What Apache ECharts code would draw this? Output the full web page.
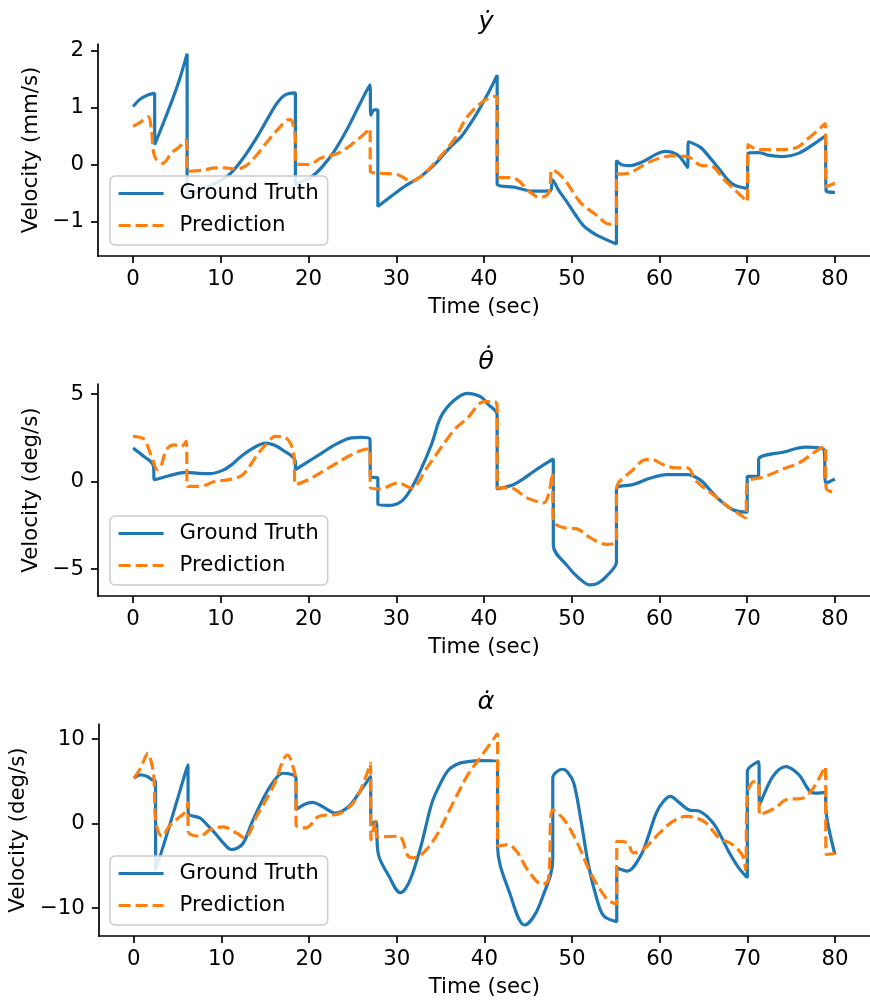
<!DOCTYPE html>
<html>
<head>
<meta charset="utf-8">
<script src="https://cdn.jsdelivr.net/npm/echarts@6/dist/echarts.min.js"></script>
<style>
  html, body { margin: 0; padding: 0; background: #fff; }
  #chart { width: 870px; height: 1002px; }
</style>
</head>
<body>
<div id="chart"></div>
<script>
// tick labels
var xTicks = [0, 10, 20, 30, 40, 50, 60, 70, 80]
var yTicks1 = [-1, 0, 1, 2]
var yTicks2 = [-5, 0, 5]
var yTicks3 = [-10, 0, 10]

// y dot: [time, value]
var ydGT = [[0,1.02],[0.8,1.15],[1.6,1.22],[2.46,1.25],[2.46,0.35],[3.5,0.75],[4.5,1.15],[5.3,1.5],[6.16,1.95],
  [6.16,-0.55],[7.5,-0.47],[9,-0.36],[10.95,-0.18],[12.5,0.1],[14,0.45],[15.5,0.85],[16.5,1.1],[17.4,1.23],[18.5,1.26],
  [18.5,-0.35],[19.5,-0.28],[20.4,-0.21],[21.5,-0.05],[23,0.25],[24.5,0.65],[25.8,1.05],[27,1.4],[27.1,0.87],[27.5,0.96],[27.9,0.96],
  [27.9,-0.74],[29.5,-0.55],[31,-0.38],[32.8,-0.21],[34.5,0.02],[36,0.28],[37.4,0.49],[38.1,0.64],[39,0.85],[40,1.12],[40.8,1.35],[41.5,1.57],
  [41.5,-0.34],[43.5,-0.4],[45.7,-0.47],[47.6,-0.46],[47.8,-0.27],[48.5,-0.45],[49.5,-0.67],[50.4,-0.88],[51.3,-1.07],[52.2,-1.18],[53.2,-1.27],[55.1,-1.4],
  [55.1,0.07],[55.8,-0.01],[56.6,-0.02],[58.1,0.05],[59.5,0.17],[60.6,0.23],[61.5,0.21],[62.3,0.14],[63.2,-0.05],
  [63.3,0.4],[64.6,0.31],[65.7,0.13],[66.8,-0.08],[68.3,-0.34],[70,-0.42],
  [70.1,0.2],[71.3,0.21],[72.5,0.16],[74,0.14],[75.9,0.2],[77.5,0.35],[78.9,0.5],[79,-0.47],[80,-0.49]]
var ydPR = [[0,0.67],[0.8,0.74],[1.7,0.84],[2.1,0.6],[2.46,0.14],[3.4,0.02],[4.35,0.2],[5.2,0.3],[6.05,0.43],
  [6.2,-0.12],[7.9,-0.1],[9.4,-0.06],[10.5,-0.06],[11.7,-0.08],[12.8,-0.03],[14,0.15],[15.5,0.44],[16.7,0.65],[17.75,0.79],[18.1,0.77],[18.5,0.44],
  [18.5,0.02],[20,0],[21.5,0.12],[23.4,0.2],[25.3,0.4],[27,0.63],
  [27.05,-0.12],[27.9,-0.15],[30.2,-0.18],[31.7,-0.29],[32.8,-0.21],[34.5,0.05],[36.6,0.44],[38.1,0.84],[40,1.12],[41.2,1.2],[41.5,1.17],
  [41.5,-0.22],[43.4,-0.24],[44.2,-0.32],[45.1,-0.47],[46.4,-0.58],[47.4,-0.49],[47.8,-0.09],[49.1,-0.25],[51,-0.67],[52.9,-0.9],[54,-1.04],[55.1,-1.06],
  [55.1,-0.18],[56.6,-0.15],[58.5,0.02],[60,0.11],[61.5,0.15],[63.2,0.14],[64.6,-0.01],[66.1,-0.04],[67.2,-0.24],[68.6,-0.45],[70,-0.65],
  [70.1,0.35],[71.3,0.26],[73.6,0.26],[75.5,0.29],[77,0.46],[78.9,0.72],[79,-0.39],[80,-0.33]]

// theta dot
var thGT = [[0,1.91],[1.2,1.45],[2.27,0.97],[2.46,0.11],[4,0.32],[6.05,0.53],[7.5,0.47],[8.7,0.45],[10.2,0.64],[11.2,0.95],[12.1,1.35],[13.5,1.85],[15.1,2.2],[16,2.1],[17,1.82],[18.5,1.15],
  [18.5,0.68],[20,1.15],[21.5,1.63],[23.2,2.15],[24.9,2.5],[26,2.52],[27,2.42],[27.05,0.27],[27.9,0.2],
  [27.9,-1.31],[29.1,-1.36],[30.6,-1.12],[31.7,-0.4],[32.8,0.68],[34,2.1],[35.1,3.71],[36.5,4.6],[38.1,5.04],[39.6,4.85],[40.5,4.4],[41.5,3.8],
  [41.5,-0.42],[42.4,-0.32],[43.4,-0.17],[44.6,0.2],[45.7,0.59],[46.8,0.95],[47.9,1.29],[47.9,-3.64],[49.5,-4.81],[50.8,-5.5],[52.1,-5.9],[53,-5.8],[54,-5.38],[55.1,-4.58],
  [55.1,-0.42],[57,-0.17],[59,0.2],[60.8,0.4],[63.2,0.4],[64.6,0.11],[65.8,-0.5],[66.8,-1.02],[68.3,-1.59],[69.8,-1.74],
  [70,-1.74],[70,0.3],[71.3,0.3],[71.3,1.25],[74.4,1.72],[76.6,1.97],[78.7,1.86],[79,-0.08],[80,0.15]]
var thPR = [[0,2.58],[0.6,2.55],[1.3,2.39],[2.1,1.44],[2.8,0.68],[3.2,0.9],[3.8,1.82],[4.7,2.1],[5.5,2.0],[6.05,2.29],
  [6.2,-0.27],[7.55,-0.27],[9.4,0.02],[10.95,0.11],[12.5,0.4],[14.3,1.63],[15.3,2.2],[16.2,2.58],[17.4,2.5],[18.3,1.63],
  [18.5,-0.17],[20,0.11],[22.3,0.78],[24.9,1.53],[26.8,1.86],[27,1.86],
  [27.05,-0.36],[28.1,-0.42],[30.2,-0.08],[31.7,-0.36],[33.6,0.87],[36.6,2.95],[38.1,3.62],[40,4.56],[41.2,4.56],[41.5,4.28],
  [41.5,-0.36],[43,-0.36],[44.9,-0.93],[46.8,-1.21],[47.8,0.49],[47.9,-2.25],[49.1,-2.63],[50.6,-2.7],[52.1,-3.2],[54,-3.58],[55.1,-3.39],
  [55.1,-0.42],[57,0.68],[58.5,1.25],[59.2,1.25],[60.4,0.97],[61.9,0.78],[63.2,0.78],[64.2,0.02],[66.1,-0.74],[68.3,-1.59],[69.8,-2.06],
  [70,-0.08],[72.1,0.3],[74.4,0.78],[75.9,1.06],[78.1,1.82],[78.9,2.0],[79,-0.36],[80,-0.64]]

// alpha dot
var alGT = [[0,5.38],[0.76,5.77],[1.5,5.6],[2.1,5.18],[2.46,4.98],[2.5,-5.5],[4.16,0.08],[6.16,6.95],
  [6.2,1.26],[7.55,0.67],[8.5,-0.3],[9.4,-1.3],[10.3,-2.4],[11.1,-3.06],[11.8,-2.9],[12.5,-2.27],[13.5,0.2],[14.7,2.83],[15.8,4.8],[17,5.97],[18.5,5.38],
  [18.5,1.65],[19.5,2.3],[20.4,2.51],[21.5,2.04],[23,1.26],[24.5,2.04],[25.8,3.8],[27,5.57],
  [27.05,-0.12],[27.6,0.27],[27.9,-3.65],[29.1,-6.2],[30.4,-8.17],[31,-7.7],[31.7,-6.2],[32.8,-2.5],[34,2.43],[35,4.8],[35.9,6.36],[37,7.1],[38.1,7.34],[39.6,7.46],[41.5,7.26],
  [41.5,-2.67],[43,-8.56],[44.6,-12.0],[45.5,-11.2],[46.4,-9.34],[47.8,-4.24],[47.8,5.38],[48.9,6.44],[49.5,6.1],[50.2,4.79],[51,0.5],[51.9,-5.03],[52.8,-8.8],[53.6,-10.9],[55.1,-11.6],
  [55.1,-5.22],[56.3,-5.61],[57.8,-3.85],[58.7,-1.5],[59.6,1.26],[60.4,2.6],[61.2,3.22],[62.3,2.43],[63.3,1.65],[64.6,1.45],[66.1,0.08],[67,-1.5],[67.95,-3.45],[69,-5.2],[70,-6.4],
  [70,6.16],[71.3,7.34],[71.4,2.24],[72.9,5.57],[74.4,6.75],[75.9,5.77],[77,4.0],[77.7,3.61],[78.9,3.69],[79,1.26],[80,-3.65]]
var alPR = [[0,5.38],[0.76,6.56],[1.6,8.32],[2.1,6.75],[2.3,5.18],[2.46,0.47],[3.2,-1.49],[4.16,-0.12],[5.3,0.86],[6.05,1.65],[6.15,2.5],
  [6.2,-0.9],[7.55,-1.49],[8.7,-0.71],[10.2,-0.39],[11.7,-1.1],[12.65,-1.69],[14,0.86],[15.9,4.4],[17.55,8.13],[18.1,6.95],[18.5,4.79],
  [18.5,-0.12],[19.6,-0.51],[21.1,0.86],[23.4,1.18],[25.3,2.83],[27,7.15],
  [27.05,-1.88],[27.6,0.27],[27.7,-1.57],[30.2,-1.49],[31.3,-3.85],[31.9,-4.04],[34,-2.27],[36.6,2.83],[38.1,5.77],[39.6,7.93],[41.5,10.68],
  [41.5,-2.67],[42.7,-2.47],[43.8,-3.45],[44.9,-5.42],[46.6,-7.18],[47.3,-6.6],[47.8,1.65],[49.1,0.47],[50.6,-2.27],[52.1,-5.81],[54,-8.95],[55.1,-9.54],
  [55.1,-2.08],[56.3,-2.27],[57,-3.45],[58.1,-3.06],[60,-1.1],[61.5,0.27],[63,0.86],[64.2,0.67],[65.3,0.08],[66.8,-1.69],[68.3,-2.47],[69.5,-3.85],[69.8,-5.42],
  [70,3.42],[70.8,4.98],[71.3,4.79],[71.4,1.06],[73.2,1.85],[74.4,2.83],[76.3,3.02],[77.4,4.0],[78.9,6.75],[79,-3.65],[80,-3.53]]

var FONT = 'DejaVu Sans'
var FS = 21.3
var BLUE = '#1f77b4'
var ORANGE = '#ff7f0e'
var tops = [44, 384, 724]
var yRanges = [[-1.61, 2.12], [-6.53, 5.57], [-13.3, 11.8]]
var yTickSets = [yTicks1, yTicks2, yTicks3]
var yNames = ['Velocity (mm/s)', 'Velocity (deg/s)', 'Velocity (deg/s)']
var yNameGaps = [55, 55, 69]
var titles = ['\u1e8f', '\u03b8\u0307', '\u03b1\u0307']
var gtData = [ydGT, thGT, alGT]
var prData = [ydPR, thPR, alPR]

function minus(v) {
  return String(v).replace('-', '\u2212')
}

var axisLineStyle = { color: '#000', width: 1.7 }

var option = {
  animation: false,
  backgroundColor: '#fff',
  grid: [],
  xAxis: [],
  yAxis: [],
  legend: [],
  series: [],
  graphic: []
}

for (var i = 0; i < 3; i++) {
  option.grid.push({ left: 98, width: 777, top: tops[i], height: 212 })
  option.xAxis.push({
    type: 'value',
    gridIndex: i,
    min: -4,
    max: 84,
    name: 'Time (sec)',
    nameLocation: 'middle',
    nameGap: 41,
    nameTextStyle: { fontSize: FS, color: '#000', fontFamily: FONT },
    axisLine: { show: true, onZero: false, lineStyle: axisLineStyle },
    axisTick: { show: true, length: 7, lineStyle: axisLineStyle, customValues: xTicks },
    axisLabel: { fontSize: FS, color: '#000', fontFamily: FONT, margin: 13, customValues: xTicks },
    splitLine: { show: false }
  })
  option.yAxis.push({
    type: 'value',
    gridIndex: i,
    min: yRanges[i][0],
    max: yRanges[i][1],
    name: yNames[i],
    nameLocation: 'middle',
    nameGap: yNameGaps[i],
    nameTextStyle: { fontSize: FS, color: '#000', fontFamily: FONT },
    axisLine: { show: true, onZero: false, lineStyle: axisLineStyle },
    axisTick: { show: true, length: 7, lineStyle: axisLineStyle, customValues: yTickSets[i] },
    axisLabel: { fontSize: FS, color: '#000', fontFamily: FONT, margin: 14, customValues: yTickSets[i], formatter: minus },
    splitLine: { show: false }
  })
  option.legend.push({
    data: ['Ground Truth', 'Prediction'],
    orient: 'vertical',
    left: 110,
    top: tops[i] + 132,
    backgroundColor: 'rgba(255,255,255,0.85)',
    borderColor: '#cccccc',
    borderWidth: 1.5,
    borderRadius: 5,
    padding: [7, 9, 9, 7],
    itemWidth: 45,
    itemHeight: 20,
    itemGap: 11,
    selectedMode: false,
    // hide the marker, keep the line
    itemStyle: { color: 'rgba(0,0,0,0)', borderWidth: 0, opacity: 0 },
    lineStyle: { width: 3.2 },
    textStyle: { fontSize: FS, color: '#000', fontFamily: FONT, padding: [0, 0, 0, 11] }
  })
  option.series.push({
    name: 'Ground Truth',
    type: 'line',
    xAxisIndex: i,
    yAxisIndex: i,
    showSymbol: false,
    symbol: 'none',
    smooth: 0.35,
    lineStyle: { color: BLUE, width: 3.2 },
    itemStyle: { color: BLUE },
    data: gtData[i]
  })
  option.series.push({
    name: 'Prediction',
    type: 'line',
    xAxisIndex: i,
    yAxisIndex: i,
    showSymbol: false,
    symbol: 'none',
    smooth: 0.35,
    lineStyle: { color: ORANGE, width: 3.2, type: [12, 5] },
    itemStyle: { color: ORANGE },
    data: prData[i]
  })
  option.graphic.push({
    type: 'text',
    x: 486,
    y: tops[i] - 22,
    style: {
      text: titles[i],
      font: 'italic 25.6px "DejaVu Sans"',
      fill: '#000',
      textAlign: 'center',
      textVerticalAlign: 'middle'
    }
  })
}

var chart = echarts.init(document.getElementById('chart'))
chart.setOption(option)
</script>
</body>
</html>
